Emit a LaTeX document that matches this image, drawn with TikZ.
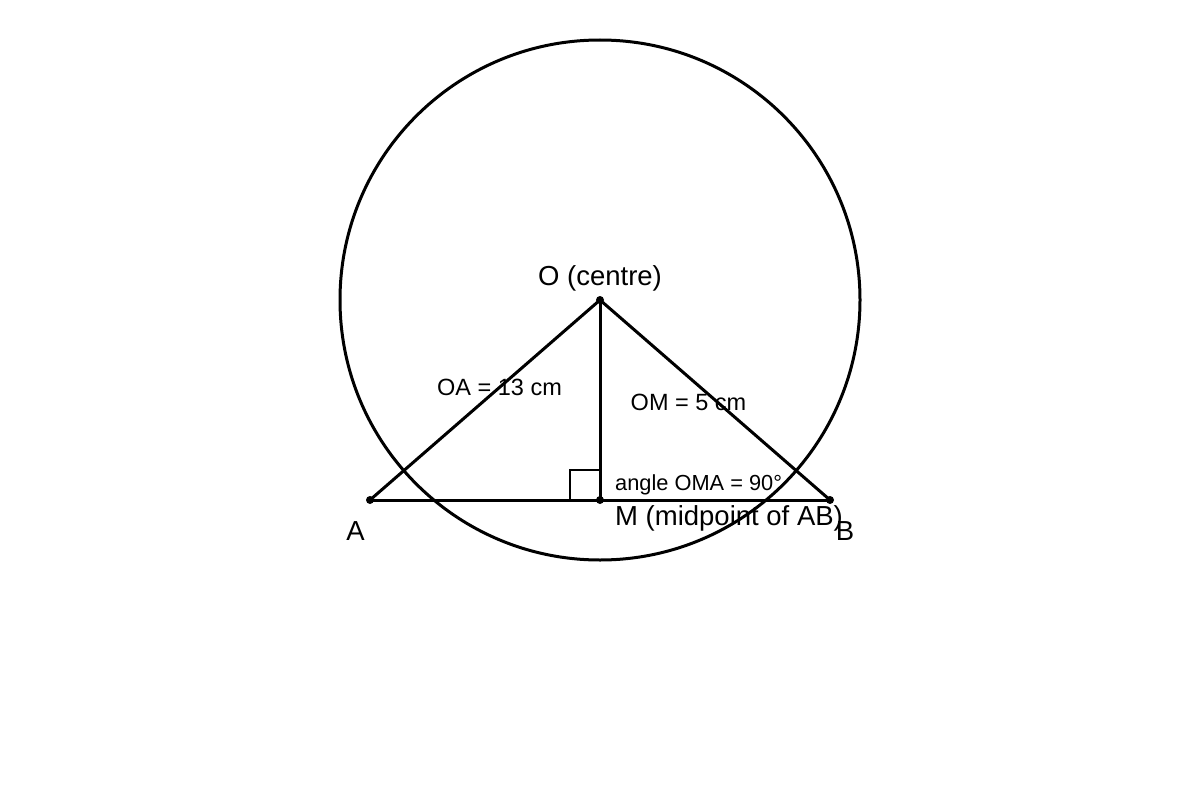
\documentclass[tikz,border=0pt]{standalone}
\usepackage{fontspec}
\setmainfont{Liberation Sans}
\begin{document}
\begin{tikzpicture}[x=1pt,y=-1pt,
  seg/.style={line width=3pt, line cap=round, line join=round},
  dot/.style={circle, fill=black, inner sep=0pt, minimum size=8pt},
  big/.style={font=\fontsize{27.5}{33}\selectfont, inner sep=0pt},
  mid/.style={font=\fontsize{23.5}{28}\selectfont, inner sep=0pt},
  small/.style={font=\fontsize{21.8}{26}\selectfont, inner sep=0pt}]
\useasboundingbox (0,0) rectangle (1200,800);
\coordinate (O) at (600,300);
\coordinate (A) at (370,500);
\coordinate (B) at (830,500);
\coordinate (M) at (600,500);
\draw[line width=3pt] (O) circle[radius=260];
\draw[seg] (A) -- (B);
\draw[seg] (O) -- (A);
\draw[seg] (O) -- (B);
\draw[seg] (O) -- (M);
\draw[line width=2pt] (M) ++(-30,0) -- ++(0,-30) -- ++(30,0);
\node[dot] (dO) at (O) {};
\node[dot] (dA) at (A) {};
\node[dot] (dB) at (B) {};
\node[dot] (dM) at (M) {};
\node[big, anchor=base] (lO) at (600,285) {O (centre)};
\node[mid, anchor=base] (lOA) at (499.5,395) {OA = 13 cm};
\node[mid, anchor=base] (lOM) at (688.5,410) {OM = 5 cm};
\node[small, anchor=base west] (lang) at (615,490) {angle OMA = 90°};
\node[big, anchor=base west] (lM) at (615,525) {M (midpoint of AB)};
\node[big, anchor=base] (lA) at (355.5,540) {A};
\node[big, anchor=base] (lB) at (845,540) {B};
\end{tikzpicture}
\end{document}
